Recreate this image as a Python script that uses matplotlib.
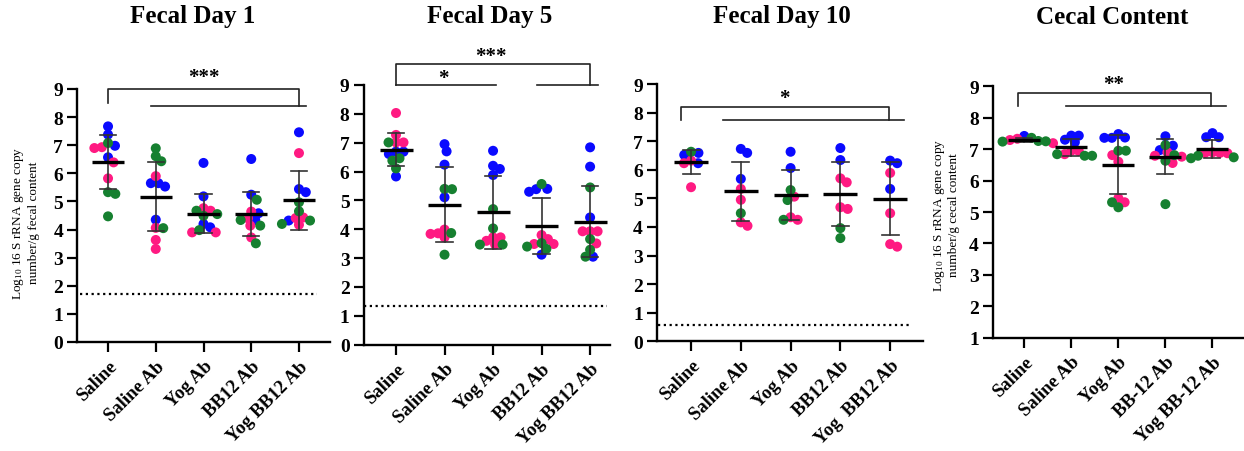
import numpy as np
import matplotlib.pyplot as plt

plt.rcParams['font.family'] = ['Liberation Serif', 'DejaVu Serif']
plt.rcParams['mathtext.fontset'] = 'custom'
plt.rcParams['mathtext.rm'] = 'Liberation Serif'
plt.rcParams['mathtext.default'] = 'regular'

# group names per panel
groups_fecal = ['Saline', 'Saline Ab', 'Yog Ab', 'BB12 Ab', 'Yog BB12 Ab']
groups_day10 = ['Saline', 'Saline Ab', 'Yog Ab', 'BB12 Ab', 'Yog  BB12 Ab']
groups_cecal = ['Saline', 'Saline Ab', 'Yog Ab', 'BB-12 Ab', 'Yog BB-12 Ab']

# log10 16S copies per mouse, split by colour (one inner list per group)
day1_blue = [[7.67, 7.38, 6.98, 6.57], [5.65, 5.65, 5.53, 4.35], [6.37, 5.18, 4.20, 4.08],
             [6.51, 5.24, 4.58, 4.34], [7.46, 5.44, 5.33, 4.32]]
day1_pink = [[6.90, 6.93, 6.39, 5.82], [5.90, 4.06, 3.63, 3.31], [4.76, 4.67, 3.90, 3.90],
             [4.64, 4.40, 4.14, 3.72], [6.72, 4.43, 4.41, 4.17]]
day1_green = [[7.08, 5.33, 5.27, 4.47], [6.89, 6.61, 6.43, 4.05], [4.67, 4.55, 4.49, 3.98],
              [5.06, 4.34, 4.14, 3.51], [4.97, 4.65, 4.32, 4.20]]

day5_blue = [[6.69, 6.69, 6.61, 5.83], [6.95, 6.70, 6.24, 5.11], [6.72, 6.20, 6.09, 5.88],
             [5.40, 5.39, 5.30, 3.12], [6.84, 6.17, 4.41, 3.05]]
day5_pink = [[8.03, 7.27, 7.01, 7.01], [3.99, 3.86, 3.84, 3.72], [3.72, 3.72, 3.60, 3.47],
             [3.80, 3.66, 3.49, 3.49], [3.93, 3.93, 3.93, 3.51]]
day5_green = [[7.01, 6.46, 6.38, 6.11], [5.39, 5.40, 3.87, 3.12], [4.70, 4.03, 3.47, 3.47],
              [5.57, 3.52, 3.40, 3.32], [5.45, 3.66, 3.29, 3.05]]

day10_blue = [[6.59, 6.52, 6.23], [6.73, 6.59, 5.68], [6.63, 6.06], [6.76, 6.34], [6.32, 6.23, 5.33]]
day10_pink = [[6.32, 6.23, 5.39], [5.33, 4.95, 4.16, 4.04], [5.06, 4.34, 4.25],
              [5.70, 5.56, 4.69, 4.63], [5.89, 4.48, 3.40, 3.31]]
day10_green = [[6.63], [4.48], [5.29, 4.94, 4.25], [3.96, 3.61], []]

cecal_blue = [[7.42], [7.43, 7.43, 7.30, 7.22], [7.48, 7.37, 7.36, 7.36],
              [7.41, 7.11, 6.97], [7.51, 7.38, 7.38]]
cecal_pink = [[7.33, 7.29, 7.19], [6.95, 6.94, 6.84], [6.81, 6.60, 5.44, 5.31],
              [6.90, 6.79, 6.76, 6.56], [6.90, 6.88, 6.88, 6.87]]
cecal_green = [[7.36, 7.26, 7.25, 7.24], [6.84, 6.79, 6.79], [6.95, 6.95, 5.31, 5.15],
               [7.13, 6.81, 6.63, 5.25], [6.79, 6.74, 6.71]]

# limit of detection for each fecal day
lod_day1, lod_day5, lod_day10 = 1.72, 1.35, 0.57

BLUE, PINK, GREEN = '#0a0aff', '#ff1a82', '#168030'
DOT_PX = 10.0    # marker diameter
GAP_PX = 7.5     # spacing used when spreading overlapping dots

W, H = 1244, 452
fig = plt.figure(figsize=(W / 100, H / 100), dpi=100)


def add_panel(x0, x1, ytop, ybot):
    return fig.add_axes([x0 / W, 1 - ybot / H, (x1 - x0) / W, (ybot - ytop) / H])


def swarm(ax, xc, vals, diam):
    # simple beeswarm in pixel space, returns x offsets in data units
    pix = ax.transData.transform(np.column_stack([np.full(len(vals), xc), vals]))
    ys = pix[:, 1]
    unit = ax.transData.transform((1, 0))[0] - ax.transData.transform((0, 0))[0]
    offs = np.zeros(len(vals))
    placed = []
    for i in np.argsort(-np.asarray(vals), kind='stable'):
        y = ys[i]
        cands = [0.0]
        for px, py in placed:
            dy = abs(py - y)
            if dy < diam:
                dx = np.sqrt(diam ** 2 - dy ** 2)
                cands += [px + dx, px - dx]
        cands.sort(key=lambda c: (round(abs(c), 3), -c))
        best = 0.0
        for c in cands:
            if all((c - px) ** 2 + (y - py) ** 2 >= diam ** 2 - 1e-6 for px, py in placed):
                best = c
                break
        placed.append((best, y))
        offs[i] = best / unit
    return offs


def draw_panel(ax, labels, blue, pink, green, xlim, ylim):
    ax.set_xlim(*xlim)
    ax.set_ylim(*ylim)
    for i in range(len(labels)):
        vals = list(blue[i]) + list(pink[i]) + list(green[i])
        cols = [BLUE] * len(blue[i]) + [PINK] * len(pink[i]) + [GREEN] * len(green[i])
        offs = swarm(ax, i, vals, GAP_PX)
        ax.scatter(i + offs, vals, s=(DOT_PX * 0.72) ** 2, c=cols, linewidths=0,
                   zorder=2, clip_on=False)
        m = np.mean(vals)
        sd = np.std(vals, ddof=1)
        ax.plot([i, i], [m - sd, m + sd], color='#333333', lw=1.2, zorder=3)
        for cap in (m - sd, m + sd):
            ax.plot([i - 0.17, i + 0.17], [cap, cap], color='#333333', lw=1.2, zorder=3)
        ax.plot([i - 0.34, i + 0.34], [m, m], color='black', lw=2.4, zorder=4,
                solid_capstyle='butt')

    for side in ('top', 'right'):
        ax.spines[side].set_visible(False)
    for side in ('left', 'bottom'):
        ax.spines[side].set_linewidth(1.7)
    ax.set_yticks(np.arange(ylim[0], ylim[1] + 1))
    ax.set_xticks(range(len(labels)))
    ax.set_xticklabels(labels, rotation=45, ha='right', rotation_mode='anchor',
                       fontweight='bold', fontsize=13.5)
    ax.tick_params(direction='out', length=7, width=1.6, pad=3)
    ax.tick_params(axis='y', labelsize=14)
    ax.tick_params(axis='x', pad=4)
    for t in ax.get_yticklabels():
        t.set_fontweight('bold')


def bracket(ax, pts, color='#222222'):
    xs, ys = zip(*pts)
    ax.plot(xs, ys, color=color, lw=1.2, clip_on=False, zorder=5)


def stars(ax, x, y, txt, fs=15):
    ax.annotate(txt, (x, y), xytext=(0, -0.49 * fs), textcoords='offset points',
                ha='center', va='baseline', fontsize=fs, fontweight='bold',
                annotation_clip=False)


def lod(ax, x0, x1, y):
    ax.plot([x0, x1], [y, y], color='black', lw=1.6, ls=(0, (1, 1.6)), zorder=1,
            clip_on=False)


# Fecal day 1
ax1 = add_panel(77, 330, 90, 343)
draw_panel(ax1, groups_fecal, day1_blue, day1_pink, day1_green, (-0.65, 4.65), (0, 9))
lod(ax1, -0.59, 4.38, lod_day1)
bracket(ax1, [(0, 8.5), (0, 9.0), (4, 9.0), (4, 8.4)])
bracket(ax1, [(0.9, 8.4), (4.15, 8.4)])
stars(ax1, 2, 9.6, '***')

# Fecal day 5
ax2 = add_panel(363.5, 610, 86, 345.7)
draw_panel(ax2, groups_fecal, day5_blue, day5_pink, day5_green, (-0.67, 4.41), (0, 9))
lod(ax2, -0.67, 4.35, lod_day5)
bracket(ax2, [(0, 9.0), (0, 9.73), (4, 9.73), (4, 9.0)])
bracket(ax2, [(0, 9.0), (2.06, 9.0)])
bracket(ax2, [(2.9, 9.0), (4.17, 9.0)])
stars(ax2, 0.97, 9.44, '*')
stars(ax2, 1.96, 10.19, '***')

# Fecal day 10
ax3 = add_panel(656.7, 923, 85, 342.3)
draw_panel(ax3, groups_day10, day10_blue, day10_pink, day10_green, (-0.69, 4.66), (0, 9))
lod(ax3, -0.66, 4.4, lod_day10)
bracket(ax3, [(-0.2, 7.75), (-0.2, 8.21), (3.97, 8.21), (3.97, 7.75)])
bracket(ax3, [(0.65, 7.75), (4.27, 7.75)])
stars(ax3, 1.88, 8.68, '*')

# Cecal content
ax4 = add_panel(992.7, 1244, 87.3, 338.7)
draw_panel(ax4, groups_cecal, cecal_blue, cecal_pink, cecal_green, (-0.67, 4.67), (1, 9))
bracket(ax4, [(-0.14, 8.38), (-0.14, 8.79), (3.97, 8.79), (3.97, 8.38)])
bracket(ax4, [(0.89, 8.38), (4.29, 8.38)])
stars(ax4, 1.91, 9.23, '**')

# titles and y labels
for xc, title in [(193, 'Fecal Day 1'), (490, 'Fecal Day 5'), (782, 'Fecal Day 10'),
                  (1112, 'Cecal Content')]:
    fig.text(xc / W, 1 - 17 / H, title, ha='center', va='center', fontsize=18,
             fontweight='bold')

fig.text(25.5 / W, 1 - 223 / H, 'Log$_{10}$ 16 S rRNA gene copy\nnumber/g fecal content',
         rotation=90, ha='center', va='center', fontsize=9.5, multialignment='center')
fig.text(946 / W, 1 - 215 / H, 'Log$_{10}$ 16 S rRNA gene copy\nnumber/g cecal content',
         rotation=90, ha='center', va='center', fontsize=9.5, multialignment='center')

fig.savefig('out.png', dpi=100)
